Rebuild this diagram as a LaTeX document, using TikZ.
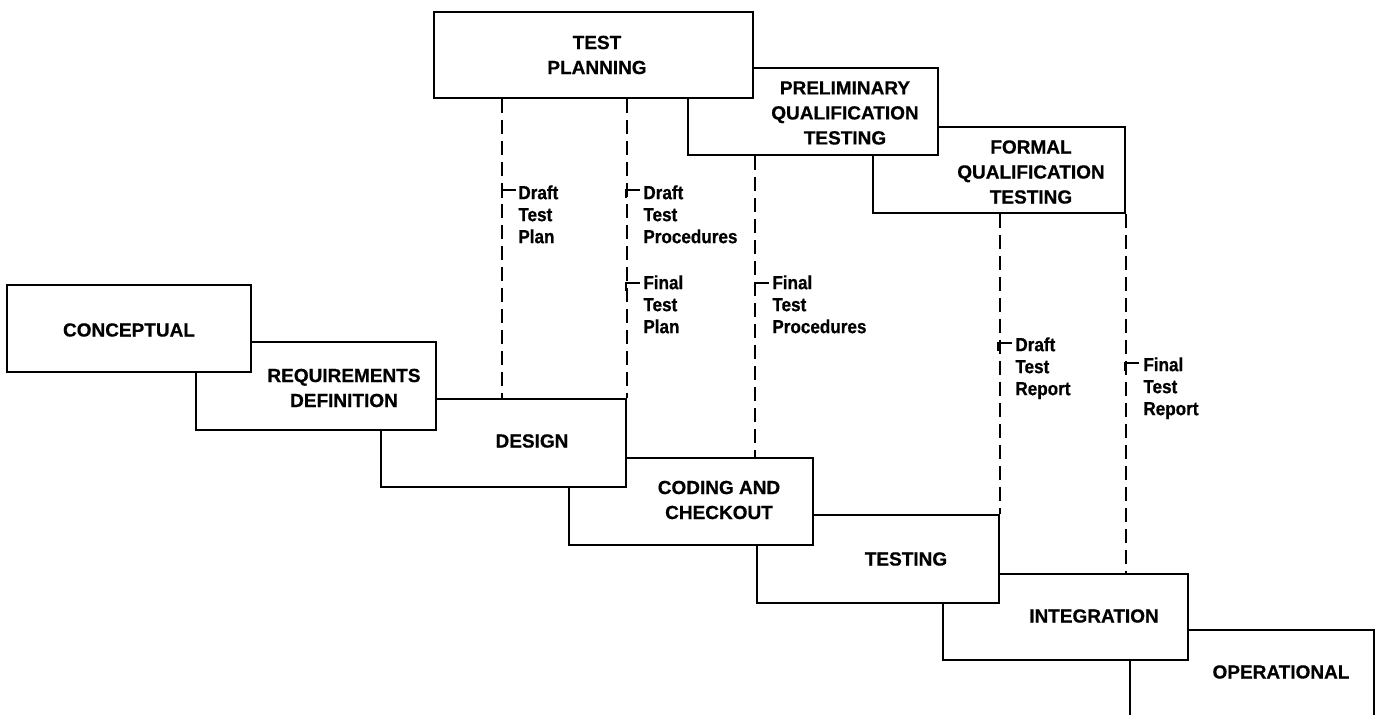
\documentclass[tikz,border=0pt]{standalone}
\usepackage{fontspec}
\setmainfont{Liberation Sans}
\newfontfamily\heavyfont[FakeBold=0.6]{Liberation Sans}
\newfontfamily\condfont[FakeStretch=0.9,FakeBold=0.6]{Liberation Sans}
\begin{document}
\begin{tikzpicture}[x=0.5pt,y=-0.5pt,
  box/.style={draw, line width=1pt, fill=white, inner sep=0pt, rectangle},
  boxtext/.style={font=\heavyfont\bfseries\fontsize{9.5}{12.5}\selectfont, align=center, inner sep=0pt},
  lbl/.style={font=\condfont\bfseries\fontsize{9.5}{11}\selectfont, align=left, anchor=north west, inner sep=0pt},
  dashline/.style={line width=1pt, dash pattern=on 7pt off 3.5pt},
  tickline/.style={line width=1pt}]
\clip (0,0) rectangle (1378,715);
% lower chain, drawn from last to first so earlier boxes lie on top
\node[box, minimum width=122pt, minimum height=50pt] (oper) at (1252,680) {};
\node[box, minimum width=122.5pt, minimum height=43pt] (integ) at (1065.5,617) {};
\node[box, minimum width=121pt, minimum height=44pt] (testing) at (878,559) {};
\node[box, minimum width=122pt, minimum height=43.5pt] (coding) at (691,501.5) {};
\node[box, minimum width=122.5pt, minimum height=44pt] (design) at (503.5,443) {};
\node[box, minimum width=120pt, minimum height=44pt] (req) at (316,386) {};
\node[box, minimum width=122pt, minimum height=43.5pt] (concept) at (129,328.5) {};
% upper chain
\node[box, minimum width=126pt, minimum height=43pt] (fqt) at (999,170) {};
\node[box, minimum width=125pt, minimum height=43.5pt] (pqt) at (813,111.5) {};
\node[box, minimum width=159.5pt, minimum height=43pt] (tp) at (593.5,55) {};
% dashed connectors
\coordinate (x1) at (502,0);
\coordinate (x3) at (755,0);
\draw[dashline] (tp.south -| x1) -- (design.north -| x1);
\draw[dashline] (tp.south -| design.north east) -- (design.north east);
\draw[dashline] (pqt.south -| x3) -- (coding.north -| x3);
\draw[dashline] (fqt.south -| testing.north east) -- (testing.north east);
\draw[dashline] (fqt.south east) -- (integ.north -| fqt.south east);
% box texts
\node[boxtext] (tconcept) at (129,330) {CONCEPTUAL};
\node[boxtext] (treq) at (344,388) {REQUIREMENTS\\DEFINITION};
\node[boxtext] (tdesign) at (532,441) {DESIGN};
\node[boxtext] (tcoding) at (719,500) {CODING AND\\CHECKOUT};
\node[boxtext] (ttesting) at (906,559) {TESTING};
\node[boxtext] (tinteg) at (1094,616) {INTEGRATION};
\node[boxtext] (toper) at (1281,672) {OPERATIONAL};
\node[boxtext] (ttp) at (597,55) {TEST\\PLANNING};
\node[boxtext] (tpqt) at (845,113) {PRELIMINARY\\QUALIFICATION\\TESTING};
\node[boxtext] (tfqt) at (1031,172) {FORMAL\\QUALIFICATION\\TESTING};
% labels with ticks
\node[lbl] (l1) at (518,185) {Draft\\Test\\Plan};
\node[lbl] (l2) at (643,185) {Draft\\Test\\Procedures};
\node[lbl] (l3) at (643,275) {Final\\Test\\Plan};
\node[lbl] (l4) at (772,275) {Final\\Test\\Procedures};
\node[lbl] (l5) at (1015,337) {Draft\\Test\\Report};
\node[lbl] (l6) at (1143,357) {Final\\Test\\Report};
\draw[tickline] (502,198) -- (502,190) -- (516,190);
\draw[tickline] (626,198) -- (626,190) -- (640,190);
\draw[tickline] (626,291) -- (626,283) -- (640,283);
\draw[tickline] (755,291) -- (755,283) -- (769,283);
\draw[tickline] (998,351) -- (998,343) -- (1012,343);
\draw[tickline] (1125,371) -- (1125,363) -- (1139,363);
\end{tikzpicture}
\end{document}
